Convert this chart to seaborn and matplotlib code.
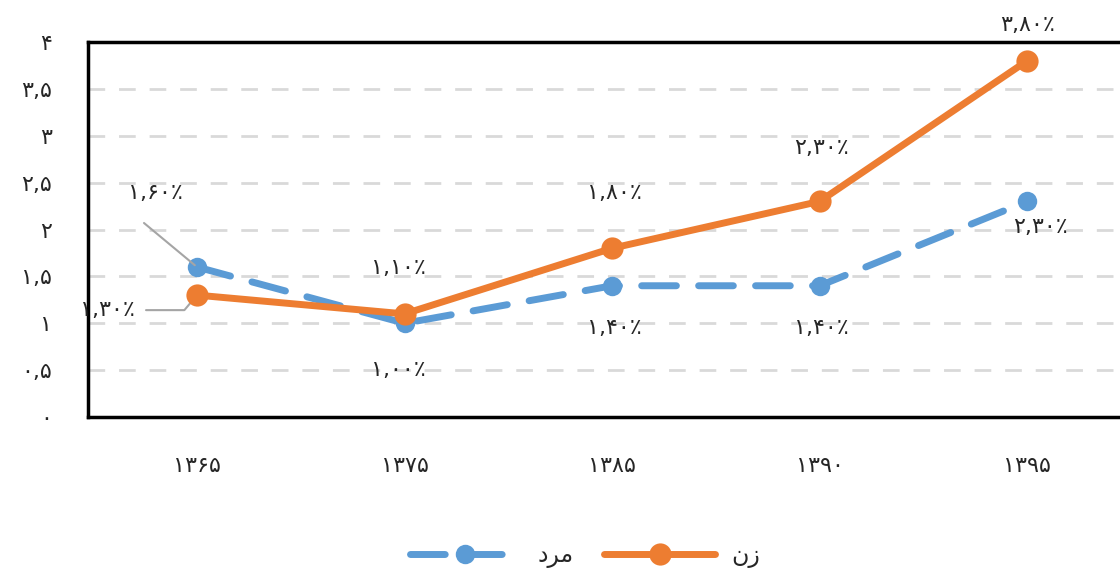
import numpy as np
import pandas as pd
import seaborn as sns
from matplotlib import pyplot as plt

# data
years = ["۱۳۶۵", "۱۳۷۵", "۱۳۸۵", "۱۳۹۰", "۱۳۹۵"]
men = [1.6, 1.0, 1.4, 1.4, 2.3]
women = [1.3, 1.1, 1.8, 2.3, 3.8]
men_labels = ["۱,۶۰٪", "۱,۰۰٪", "۱,۴۰٪", "۱,۴۰٪", "۲,۳۰٪"]
women_labels = ["۱,۳۰٪", "۱,۱۰٪", "۱,۸۰٪", "۲,۳۰٪", "۳,۸۰٪"]
y_ticks = [0, 0.5, 1, 1.5, 2, 2.5, 3, 3.5, 4]
y_tick_labels = ["۰", "۰,۵", "۱", "۱,۵", "۲", "۲,۵", "۳", "۳,۵", "۴"]
# legend names (مرد, زن) written in shaped visual order for matplotlib
men_name = "ﺩﺮﻣ"
women_name = "ﻥﺯ"

BLUE = "#5b9bd5"
ORANGE = "#ed7d31"

sns.set_style("white")
plt.rcParams["font.family"] = ["DejaVu Sans"]

df = pd.DataFrame({"year": years, "men": men, "women": women})
xpos = np.arange(len(years))

fig = plt.figure(figsize=(11.2, 5.68), dpi=100)
ax = fig.add_axes([88 / 1120, 151 / 568, 1043 / 1120, 375 / 568])

sns.lineplot(x=xpos, y=df["men"], ax=ax, color=BLUE, linewidth=5, marker="o",
             markersize=14, markeredgewidth=0, label=men_name, zorder=3)
ax.lines[-1].set_dashes((5, 3.2))
ax.lines[-1].set_dash_capstyle("round")
sns.lineplot(x=xpos, y=df["women"], ax=ax, color=ORANGE, linewidth=5, marker="o",
             markersize=16, markeredgewidth=0, label=women_name, zorder=4)
ax.lines[-1].set_solid_capstyle("round")

ax.set_xlim(-0.525, 4.5)
ax.set_ylim(0, 4)
ax.set_xticks(xpos)
ax.set_xticklabels(years)
ax.set_yticks(y_ticks)
ax.set_yticklabels(y_tick_labels)
ax.tick_params(axis="y", length=0, pad=26, labelsize=16)
ax.tick_params(axis="x", length=0, pad=28, labelsize=16)
ax.set_xlabel("")
ax.set_ylabel("")

for yv in y_ticks[1:-1]:
    ax.axhline(yv, color="#d9d9d9", linewidth=2, dashes=(6, 5), zorder=1)

for side in ["left", "top", "bottom"]:
    ax.spines[side].set_color("black")
    ax.spines[side].set_linewidth(2.5)
ax.spines["right"].set_visible(False)

# data labels (offsets in pixels)
men_off = [(-42, 74), (-6, -47), (2, -42), (2, -42), (13, -26)]
women_off = [(-90, -15), (-6, 46), (2, 55), (2, 53), (0, 36)]
for i in range(len(years)):
    if i == 0:
        ax.annotate(men_labels[i], (xpos[i], men[i]), xytext=men_off[i],
                    textcoords="offset pixels", ha="center", va="center", fontsize=16,
                    arrowprops=dict(arrowstyle="-", color="#a5a5a5", lw=1.5,
                                    relpos=(0.3, -1.0), shrinkA=0, shrinkB=2))
        ax.annotate(women_labels[i], (xpos[i], women[i]), xytext=women_off[i],
                    textcoords="offset pixels", ha="center", va="center", fontsize=16,
                    arrowprops=dict(arrowstyle="-", color="#a5a5a5", lw=1.5,
                                    shrinkA=6, shrinkB=3,
                                    connectionstyle="angle,angleA=0,angleB=50,rad=0"))
    else:
        ax.annotate(men_labels[i], (xpos[i], men[i]), xytext=men_off[i],
                    textcoords="offset pixels", ha="center", va="center", fontsize=16)
        ax.annotate(women_labels[i], (xpos[i], women[i]), xytext=women_off[i],
                    textcoords="offset pixels", ha="center", va="center", fontsize=16,
                    annotation_clip=False)

ax.legend(loc="center", bbox_to_anchor=(497 / 1043, -0.37), ncol=2, frameon=False,
          fontsize=17, handlelength=4.7, columnspacing=1.3, handletextpad=0.7)

fig.savefig("out.png", dpi=100)
